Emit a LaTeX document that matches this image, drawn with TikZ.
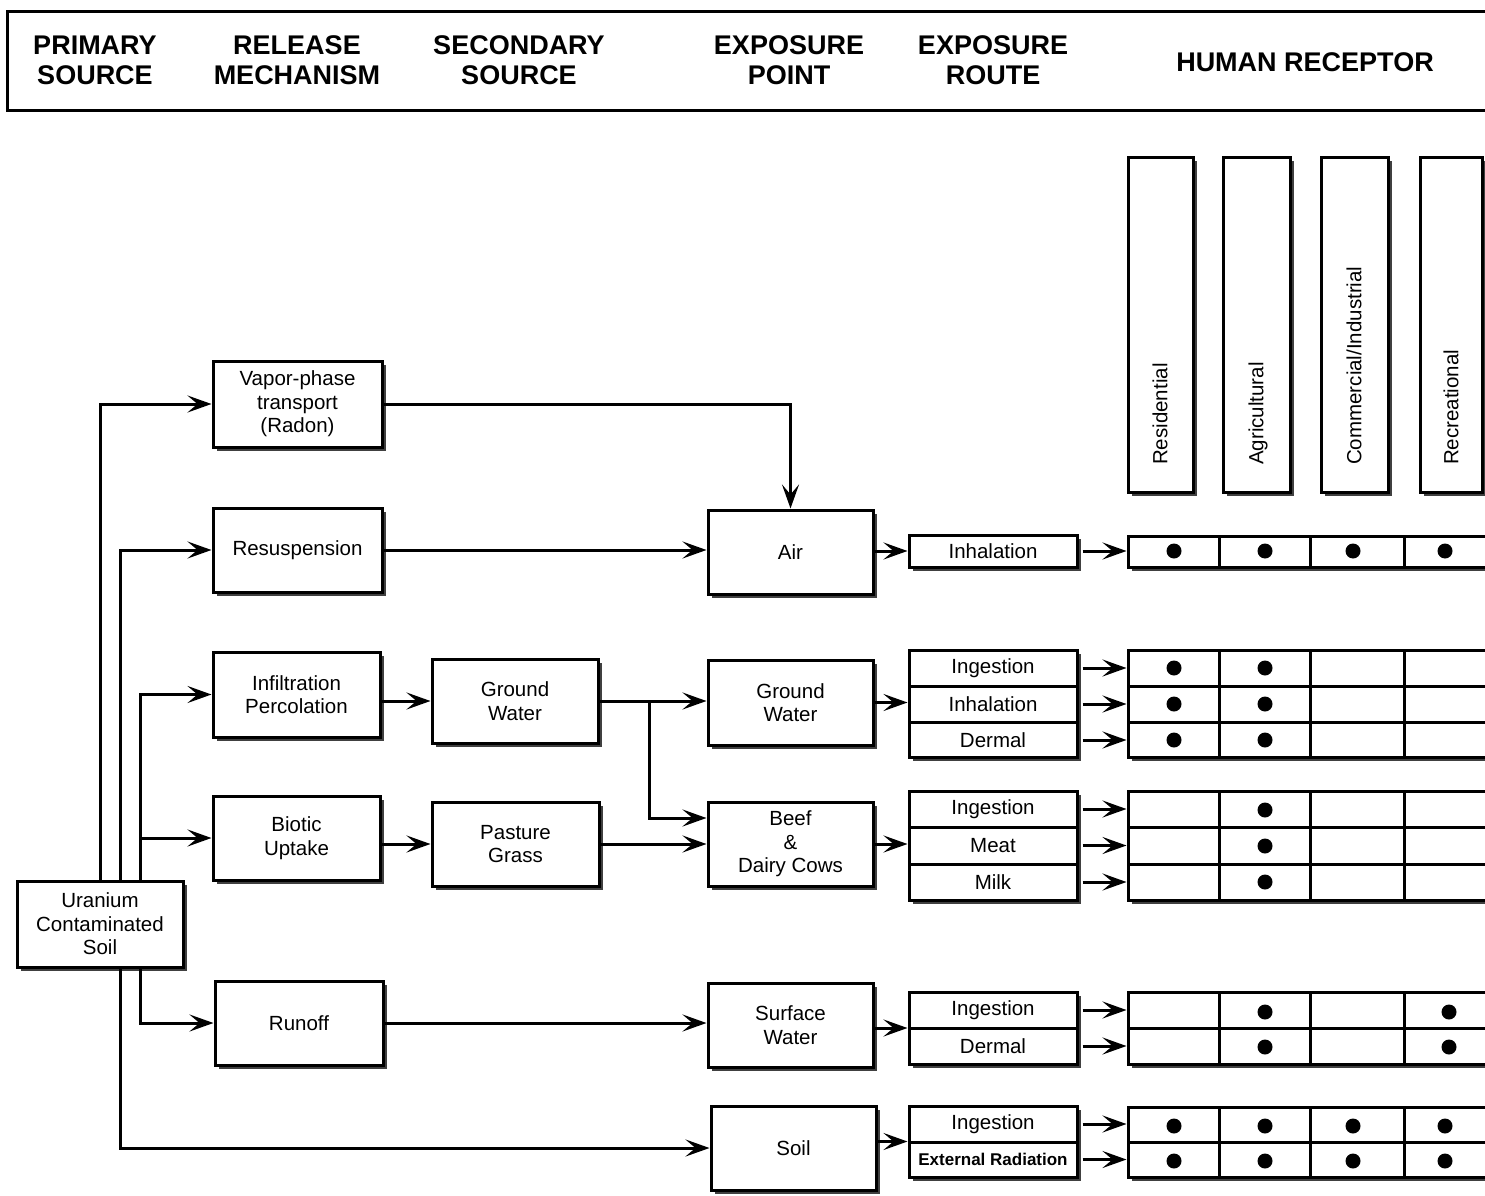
\documentclass[tikz,border=0pt]{standalone}
\usepackage{fontspec}
\setmainfont{Liberation Sans}
\usetikzlibrary{arrows.meta,shadows}
\begin{document}
\begin{tikzpicture}[x=1pt,y=-1pt,
  every node/.style={font=\fontsize{20.5}{23.5}\selectfont, align=center, inner sep=0pt},
  ln/.style={line width=3pt},
  box/.style={draw, line width=3pt, fill=white,
    drop shadow={shadow xshift=4pt, shadow yshift=-4pt, fill=black!75, opacity=1}},
  plain/.style={draw, line width=3pt, fill=white},
  arr/.style={ln, -{Stealth[length=24pt,width=17pt,inset=10pt]}},
  hdr/.style={font=\fontsize{27}{30}\selectfont\bfseries},
  rot/.style={rotate=90, anchor=west},
  dot/.style={fill=black}]
\clip (0,0) rectangle (1485,1196);
\useasboundingbox (0,0) rectangle (1485,1196);
\fill[white] (0,0) rectangle (1485,1196);

% header
\node[plain, minimum width=1493, minimum height=99] (head) at (753.5,61.5) {};
\node[hdr] (h1) at (95,60) {PRIMARY\\SOURCE};
\node[hdr] (h2) at (297,60) {RELEASE\\MECHANISM};
\node[hdr] (h3) at (519,60) {SECONDARY\\SOURCE};
\node[hdr] (h4) at (789,60) {EXPOSURE\\POINT};
\node[hdr] (h5) at (993,60) {EXPOSURE\\ROUTE};
\node[hdr] (h6) at (1305,62) {HUMAN RECEPTOR};

% receptor columns
\node[box, minimum width=65, minimum height=335] (cRes) at (1160.5,324.5) {};
\node[box, minimum width=67, minimum height=335] (cAgr) at (1256.5,324.5) {};
\node[box, minimum width=67, minimum height=335] (cCom) at (1354.5,324.5) {};
\node[box, minimum width=62, minimum height=335] (cRec) at (1451,324.5) {};
\node[rot] (tRes) at (1160,465) {Residential};
\node[rot] (tAgr) at (1258,465) {Agricultural};
\node[rot] (tCom) at (1354,465) {Commercial/Industrial};
\node[rot] (tRec) at (1451,465) {Recreational};

% boxes
\node[box, minimum width=169, minimum height=86] (vap) at (297.5,404) {Vapor-phase\\transport\\(Radon)};
\node[box, minimum width=169, minimum height=84] (res) at (297.5,550) {Resuspension};
\node[box, minimum width=167, minimum height=85] (inf) at (296.5,694.5) {Infiltration\\Percolation};
\node[box, minimum width=167, minimum height=84] (bio) at (296.5,838) {Biotic\\Uptake};
\node[box, minimum width=168, minimum height=84] (run) at (299,1023) {Runoff};
\node[box, minimum width=166, minimum height=86] (ura) at (100,924) {Uranium\\Contaminated\\Soil};
\node[box, minimum width=166, minimum height=84] (gws) at (515,701) {Ground\\Water};
\node[box, minimum width=167, minimum height=84] (pas) at (515.5,844) {Pasture\\Grass};
\node[box, minimum width=165, minimum height=84] (air) at (790.5,552) {Air};
\node[box, minimum width=165, minimum height=85] (gwe) at (790.5,702.5) {Ground\\Water};
\node[box, minimum width=165, minimum height=84] (beef) at (790.5,844) {Beef\\\&\\Dairy Cows};
\node[box, minimum width=165, minimum height=84] (sw) at (790.5,1025) {Surface\\Water};
\node[box, minimum width=165, minimum height=84] (soil) at (793.5,1148) {Soil};

% route boxes
\node[box, minimum width=168, minimum height=32] (inhR) at (993,551) {};
\node[box, minimum width=168, minimum height=107] (gwR) at (993,703.5) {};
\node[box, minimum width=168, minimum height=109] (beefR) at (993,845.5) {};
\node[box, minimum width=168, minimum height=72] (swR) at (993,1028) {};
\node[box, minimum width=168, minimum height=71] (soilR) at (993,1141.5) {};
\draw[ln] (909,686) -- (1077,686) (909,722) -- (1077,722);
\draw[ln] (909,827) -- (1077,827) (909,864) -- (1077,864);
\draw[ln] (909,1028) -- (1077,1028);
\draw[ln] (909,1142) -- (1077,1142);
\node (airInh) at (993,551) {Inhalation};
\node (gwIng) at (993,668) {Ingestion};
\node (gwInh) at (993,704) {Inhalation};
\node (gwDer) at (993,740) {Dermal};
\node (bIng) at (993,809) {Ingestion};
\node (bMeat) at (993,845.5) {Meat};
\node (bMilk) at (993,882) {Milk};
\node (sIng) at (993,1010) {Ingestion};
\node (sDer) at (993,1046) {Dermal};
\node (oIng) at (993,1124) {Ingestion};
\node[font=\fontsize{17}{20}\selectfont\bfseries] (oExt) at (993,1159.5) {External Radiation};

% receptor grids
\node[box, minimum width=372, minimum height=31] (airG) at (1314,551.5) {};
\node[box, minimum width=372, minimum height=107] (gwG) at (1314,703.5) {};
\node[box, minimum width=372, minimum height=109] (beefG) at (1314,845.5) {};
\node[box, minimum width=372, minimum height=72] (swG) at (1314,1028) {};
\node[box, minimum width=372, minimum height=70] (soilG) at (1314,1142) {};
\foreach \x in {1219,1310,1404}{
  \draw[ln] (\x,536) -- (\x,567);
  \draw[ln] (\x,650) -- (\x,757);
  \draw[ln] (\x,791) -- (\x,900);
  \draw[ln] (\x,992) -- (\x,1064);
  \draw[ln] (\x,1107) -- (\x,1177);
}
\draw[ln] (1128,686) -- (1500,686) (1128,722) -- (1500,722);
\draw[ln] (1128,827) -- (1500,827) (1128,864) -- (1500,864);
\draw[ln] (1128,1028) -- (1500,1028);
\draw[ln] (1128,1142) -- (1500,1142);

% dots
\foreach \x in {1174,1265,1353,1445}{
  \fill[dot] (\x,551) circle (7.5pt);
  \fill[dot] (\x,1126) circle (7.5pt);
  \fill[dot] (\x,1161) circle (7.5pt);
}
\foreach \x in {1174,1265}{
  \fill[dot] (\x,668) circle (7.5pt);
  \fill[dot] (\x,704) circle (7.5pt);
  \fill[dot] (\x,740) circle (7.5pt);
}
\foreach \y in {810,846,882}{ \fill[dot] (1265,\y) circle (7.5pt); }
\foreach \x in {1265,1449}{
  \fill[dot] (\x,1012) circle (7.5pt);
  \fill[dot] (\x,1047) circle (7.5pt);
}

% connectors from source
\draw[arr] (ura.north) |- (vap.west);
\draw[arr] ([xshift=20pt]ura.north) |- (res.west);
\draw[arr] ([xshift=40pt]ura.north) |- (inf.west);
\draw[arr] ([xshift=40pt]ura.north) |- (bio.west);
\draw[arr] ([xshift=40pt]ura.south) |- (run.west);
\draw[arr] ([xshift=20pt]ura.south) |- (soil.west);

% release -> secondary / exposure point
\draw[arr] (vap.east) -| (air.north);
\draw[arr] (res.east) -- (res.east -| air.west);
\draw[arr] (inf.east |- gws.west) -- (gws.west);
\draw[arr] (bio.east |- pas.west) -- (pas.west);
\draw[arr] (gws.east) -- (gws.east -| gwe.west);
\draw[arr] (gws.east) -- ++(50pt,0) |- ([yshift=26pt]beef.west);
\draw[arr] (pas.east) -- (pas.east -| beef.west);
\draw[arr] (run.east) -- (run.east -| sw.west);

% exposure point -> route
\draw[arr] (air.east |- inhR.west) -- (inhR.west);
\draw[arr] (gwe.east) -- (gwe.east -| gwR.west);
\draw[arr] (beef.east) -- (beef.east -| beefR.west);
\draw[arr] (sw.east |- swR.west) -- (swR.west);
\draw[arr] (soil.east |- soilR.west) -- (soilR.west);

% route -> receptor
\foreach \r/\g/\t in {airInh/inhR/airG, gwIng/gwR/gwG, gwInh/gwR/gwG, gwDer/gwR/gwG,
  bIng/beefR/beefG, bMeat/beefR/beefG, bMilk/beefR/beefG,
  sIng/swR/swG, sDer/swR/swG, oIng/soilR/soilG, oExt/soilR/soilG}{
  \draw[arr] ([xshift=4pt]\g.east |- \r) -- (\t.west |- \r);
}
\end{tikzpicture}
\end{document}
